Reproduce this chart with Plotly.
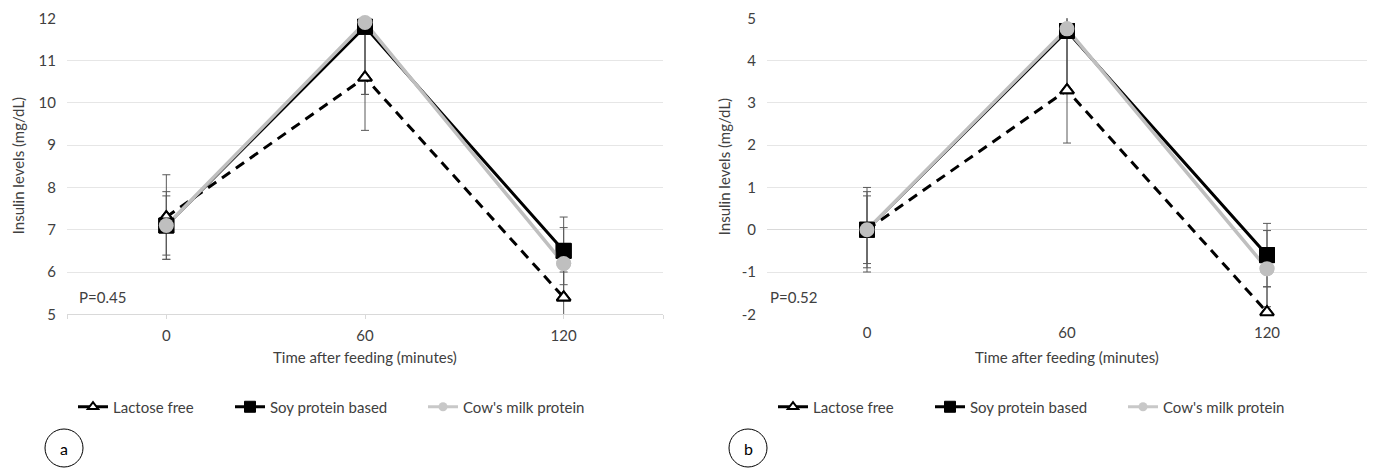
import plotly.graph_objects as go

# ---------------- data ----------------
times = [0, 60, 120]
series_names = ["Lactose free", "Soy protein based", "Cow's milk protein"]

a_lactose = [7.3, 10.6, 5.4]
a_lactose_err = [1.0, 1.25, 0.6]
a_soy = [7.1, 11.8, 6.5]
a_soy_err = [0.8, 1.6, 0.8]
a_cow = [7.1, 11.9, 6.2]
a_cow_err = [0.7, 1.7, 0.85]

b_lactose = [0.0, 3.3, -1.95]
b_lactose_err = [1.0, 1.25, 0.6]
b_soy = [0.0, 4.7, -0.6]
b_soy_err = [0.9, 1.4, 0.75]
b_cow = [0.0, 4.75, -0.92]
b_cow_err = [0.8, 1.45, 0.9]

a_ticks = [5, 6, 7, 8, 9, 10, 11, 12]
b_ticks = [-2, -1, 0, 1, 2, 3, 4, 5]
p_values = ["P=0.45", "P=0.52"]
panel_labels = ["a", "b"]
x_title = "Time after feeding (minutes)"
y_title = "Insulin levels (mg/dL)"

# ---------------- layout helpers ----------------
# the page body has an 8px margin, so the figure is placed at (8, 8)
OFF = 8
W, H = 1375 - OFF, 471 - OFF
FONT = "Lato"
FS = 15
TXT = "#404040"
GRID = "#e6e6e6"
AXL = "#d9d9d9"
ERR = "#595959"


def px_x(v):
    return (v - OFF) / W


def px_y(v):
    return (H - (v - OFF)) / H


ydom = [px_y(314.3), px_y(18.3)]
xdom1 = [px_x(67), px_x(663)]
xdom2 = [px_x(767), px_x(1367)]

styles = [
    dict(line=dict(color="black", width=3, dash="10px,7px"),
         marker=dict(symbol="triangle-up", size=12, color="white",
                     line=dict(color="black", width=2))),
    dict(line=dict(color="black", width=3),
         marker=dict(symbol="square", size=15, color="black",
                     line=dict(color="black", width=1))),
    dict(line=dict(color="#bfbfbf", width=3.5),
         marker=dict(symbol="circle", size=15, color="#bfbfbf",
                     line=dict(color="#bfbfbf", width=0))),
]
legend_styles = [
    dict(line=dict(color="black", width=3),
         marker=dict(symbol="triangle-up", size=9, color="white",
                     line=dict(color="black", width=2))),
    dict(line=dict(color="black", width=3),
         marker=dict(symbol="square", size=11, color="black",
                     line=dict(color="black", width=1))),
    dict(line=dict(color="#c8c8c8", width=3),
         marker=dict(symbol="circle", size=9, color="#c8c8c8",
                     line=dict(color="#c8c8c8", width=0))),
]

fig = go.Figure()

panels = [
    ("x", "y", [a_lactose, a_soy, a_cow], [a_lactose_err, a_soy_err, a_cow_err], ["legend", "legend2", "legend3"]),
    ("x2", "y2", [b_lactose, b_soy, b_cow], [b_lactose_err, b_soy_err, b_cow_err], ["legend4", "legend5", "legend6"]),
]

for xa, ya, vals, errs, legs in panels:
    for i in range(3):
        fig.add_trace(go.Scatter(
            x=times, y=vals[i], mode="lines+markers", name=series_names[i],
            xaxis=xa, yaxis=ya, showlegend=False,
            line=styles[i]["line"], marker=styles[i]["marker"],
            error_y=dict(type="data", array=errs[i], visible=True,
                         color=ERR, thickness=1, width=4),
            hoverinfo="skip",
        ))
    for i in range(3):
        fig.add_trace(go.Scatter(
            x=times, y=vals[i], mode="markers", showlegend=False,
            xaxis=xa, yaxis=ya, marker=styles[i]["marker"],
            cliponaxis=False, hoverinfo="skip",
        ))
    # legend-only entries (no data points) with smaller symbols
    for i in range(3):
        fig.add_trace(go.Scatter(
            x=[None], y=[None], mode="lines+markers", name=series_names[i],
            xaxis=xa, yaxis=ya, legend=legs[i], showlegend=True,
            line=legend_styles[i]["line"], marker=legend_styles[i]["marker"],
            hoverinfo="skip",
        ))

tickfont = dict(family=FONT, size=FS, color=TXT)

common_x = dict(range=[-30, 150], tickvals=times, showgrid=False, zeroline=False,
                tickfont=tickfont, fixedrange=True, automargin=False)

fig.update_layout(
    width=W, height=H,
    margin=dict(l=0, r=0, t=0, b=0, autoexpand=False),
    paper_bgcolor="white", plot_bgcolor="white",
    font=dict(family=FONT, size=FS, color=TXT),
    xaxis=dict(domain=xdom1, anchor="y", showline=True, linecolor=AXL,
               ticks="outside", ticklen=4, tickcolor=AXL, ticklabelstandoff=4,
               minor=dict(tickmode="linear", tick0=-30, dtick=180, ticks="outside",
                          ticklen=4, tickcolor=AXL),
               **common_x),
    yaxis=dict(domain=ydom, anchor="x", range=[5, 12], tickvals=a_ticks,
               ticktext=[str(t) for t in a_ticks],
               showgrid=True, gridcolor=GRID, zeroline=False, showline=False,
               ticks="", tickfont=tickfont, ticklabelstandoff=10, automargin=False),
    xaxis2=dict(domain=xdom2, anchor="y2", showline=False, ticks="",
                ticklabelstandoff=8, **common_x),
    yaxis2=dict(domain=ydom, anchor="x2", range=[-2, 5], tickvals=b_ticks,
                ticktext=[str(t) for t in b_ticks],
                showgrid=True, gridcolor=GRID, zeroline=True, zerolinecolor=AXL,
                zerolinewidth=1, showline=False, ticks="", tickfont=tickfont,
                ticklabelstandoff=10, automargin=False),
    xaxis3=dict(domain=xdom2, overlaying="x2", anchor="free",
                position=ydom[0] + (0 - (-2)) / 7 * (ydom[1] - ydom[0]),
                range=[-30, 150], tickvals=times, showticklabels=False,
                showgrid=False, zeroline=False, showline=False, automargin=False,
                ticks="outside", ticklen=4, tickcolor=AXL,
                minor=dict(tickmode="linear", tick0=-30, dtick=180, ticks="outside",
                           ticklen=4, tickcolor=AXL)),
    showlegend=True,
)

# legends: one per entry so that positions match
leg_y = px_y(407)
leg_x_left = [77, 234, 427]
for p, off in enumerate([0, 700]):
    for i in range(3):
        key = "legend" if (p == 0 and i == 0) else f"legend{p * 3 + i + 1}"
        fig.update_layout({key: dict(
            x=px_x(leg_x_left[i] + off - 4), y=leg_y, xanchor="left", yanchor="middle",
            orientation="h", bgcolor="rgba(0,0,0,0)", borderwidth=0,
            font=dict(family=FONT, size=FS, color=TXT), itemclick=False,
            itemdoubleclick=False,
        )})

annotations = []
# y titles
for xp in [18, 724]:
    annotations.append(dict(text=y_title, x=px_x(xp), y=(ydom[0] + ydom[1]) / 2,
                            xref="paper", yref="paper", showarrow=False, textangle=-90,
                            xanchor="center", yanchor="middle",
                            font=dict(family=FONT, size=FS, color=TXT)))
# x titles
for xp in [365, 1067]:
    annotations.append(dict(text=x_title, x=px_x(xp), y=px_y(357), xref="paper",
                            yref="paper", showarrow=False, yanchor="middle",
                            xanchor="center",
                            font=dict(family=FONT, size=FS, color=TXT)))
# p values
for xp, t in zip([77, 768], p_values):
    annotations.append(dict(text=t, x=px_x(xp), y=px_y(297), xref="paper", yref="paper",
                            xanchor="left", yanchor="middle", showarrow=False,
                            font=dict(family=FONT, size=FS, color=TXT)))
# panel labels
shapes = []
for cx, t in zip([64, 748], panel_labels):
    cy = 448
    r = 19
    shapes.append(dict(type="circle", xref="paper", yref="paper",
                       x0=px_x(cx - r), x1=px_x(cx + r), y0=px_y(cy + r), y1=px_y(cy - r),
                       line=dict(color="black", width=1)))
    annotations.append(dict(text=t, x=px_x(cx), y=px_y(cy), xref="paper", yref="paper",
                            showarrow=False, xanchor="center", yanchor="middle",
                            font=dict(family=FONT, size=16, color="black")))

fig.update_layout(annotations=annotations, shapes=shapes)

fig.write_html("out.html")
